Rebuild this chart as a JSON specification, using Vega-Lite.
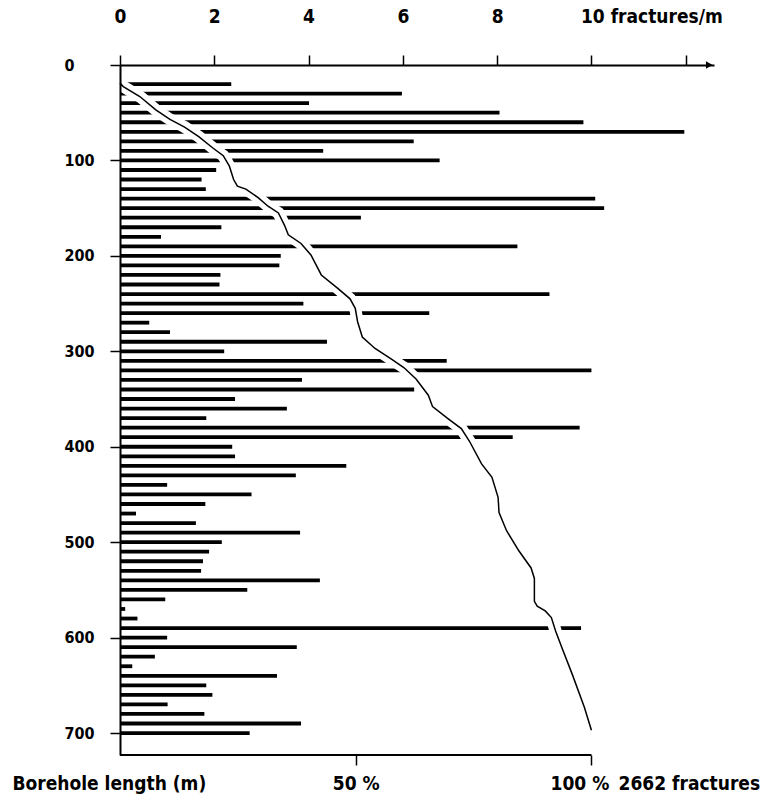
{
  "$schema": "https://vega.github.io/schema/vega-lite/v6.json",
  "width": 594,
  "height": 690,
  "autosize": {"type": "none"},
  "padding": {"left": 120, "top": 65, "right": 65, "bottom": 45},
  "config": {
    "view": {"stroke": null},
    "axis": {
      "domainColor": "black",
      "domainWidth": 2,
      "tickColor": "black",
      "tickWidth": 1.5,
      "tickSize": 10,
      "labelColor": "black",
      "titleColor": "black",
      "labelFont": "DejaVu Sans Condensed, Liberation Sans Narrow, DejaVu Sans",
      "titleFont": "DejaVu Sans Condensed, Liberation Sans Narrow, DejaVu Sans",
      "labelFontWeight": "bold",
      "titleFontWeight": "bold",
      "labelFontSize": 19,
      "titleFontSize": 19,
      "labelFlush": false,
      "labelOverlap": false,
      "grid": false
    }
  },
  "datasets": {
    "bars": [
      {"m": 20, "rate": 2.36}, {"m": 30, "rate": 5.98}, {"m": 40, "rate": 4.01},
      {"m": 50, "rate": 8.05}, {"m": 60, "rate": 9.83}, {"m": 70, "rate": 11.97},
      {"m": 80, "rate": 6.23}, {"m": 90, "rate": 4.31}, {"m": 100, "rate": 6.78},
      {"m": 110, "rate": 2.04}, {"m": 120, "rate": 1.73}, {"m": 130, "rate": 1.82},
      {"m": 140, "rate": 10.08}, {"m": 150, "rate": 10.27}, {"m": 160, "rate": 5.11},
      {"m": 170, "rate": 2.15}, {"m": 180, "rate": 0.87}, {"m": 190, "rate": 8.43},
      {"m": 200, "rate": 3.41}, {"m": 210, "rate": 3.38}, {"m": 220, "rate": 2.13},
      {"m": 230, "rate": 2.11}, {"m": 240, "rate": 9.11}, {"m": 250, "rate": 3.89},
      {"m": 260, "rate": 6.56}, {"m": 270, "rate": 0.62}, {"m": 280, "rate": 1.06},
      {"m": 290, "rate": 4.39}, {"m": 300, "rate": 2.21}, {"m": 310, "rate": 6.93},
      {"m": 320, "rate": 10.0}, {"m": 330, "rate": 3.86}, {"m": 340, "rate": 6.24},
      {"m": 350, "rate": 2.44}, {"m": 360, "rate": 3.54}, {"m": 370, "rate": 1.83},
      {"m": 380, "rate": 9.75}, {"m": 390, "rate": 8.33}, {"m": 400, "rate": 2.38},
      {"m": 410, "rate": 2.44}, {"m": 420, "rate": 4.8}, {"m": 430, "rate": 3.73},
      {"m": 440, "rate": 1.0}, {"m": 450, "rate": 2.79}, {"m": 460, "rate": 1.81},
      {"m": 470, "rate": 0.34}, {"m": 480, "rate": 1.61}, {"m": 490, "rate": 3.82},
      {"m": 500, "rate": 2.16}, {"m": 510, "rate": 1.89}, {"m": 520, "rate": 1.76},
      {"m": 530, "rate": 1.72}, {"m": 540, "rate": 4.24}, {"m": 550, "rate": 2.7},
      {"m": 560, "rate": 0.96}, {"m": 570, "rate": 0.11}, {"m": 580, "rate": 0.37},
      {"m": 590, "rate": 9.78}, {"m": 600, "rate": 1.0}, {"m": 610, "rate": 3.75},
      {"m": 620, "rate": 0.74}, {"m": 630, "rate": 0.26}, {"m": 640, "rate": 3.33},
      {"m": 650, "rate": 1.83}, {"m": 660, "rate": 1.96}, {"m": 670, "rate": 1.01},
      {"m": 680, "rate": 1.79}, {"m": 690, "rate": 3.84}, {"m": 700, "rate": 2.75}
    ],
    "curve": [
      {"m": 19, "pct": 0}, {"m": 22.6, "pct": 0.7}, {"m": 33, "pct": 4.2},
      {"m": 47, "pct": 7.6}, {"m": 57, "pct": 10.6}, {"m": 65, "pct": 13.7},
      {"m": 75, "pct": 16.7}, {"m": 87, "pct": 19.7}, {"m": 95, "pct": 21.9},
      {"m": 106, "pct": 23.2}, {"m": 120, "pct": 24.1}, {"m": 127, "pct": 24.9},
      {"m": 130, "pct": 26.7}, {"m": 139, "pct": 29.3}, {"m": 148, "pct": 31.4},
      {"m": 155, "pct": 33.6}, {"m": 168, "pct": 34.9}, {"m": 178, "pct": 35.7},
      {"m": 187, "pct": 38.4}, {"m": 199, "pct": 40.5}, {"m": 220, "pct": 42.7},
      {"m": 234, "pct": 46.2}, {"m": 245, "pct": 48.8}, {"m": 255, "pct": 49.9},
      {"m": 269, "pct": 50.4}, {"m": 285, "pct": 51.4}, {"m": 297, "pct": 54.1},
      {"m": 308, "pct": 57.5}, {"m": 317, "pct": 60.2}, {"m": 329, "pct": 62.8},
      {"m": 346, "pct": 65.4}, {"m": 358, "pct": 66.3}, {"m": 371, "pct": 69.7},
      {"m": 381, "pct": 72.4}, {"m": 394, "pct": 74.1}, {"m": 418, "pct": 76.7},
      {"m": 432, "pct": 78.9}, {"m": 453, "pct": 80.2}, {"m": 469, "pct": 80.4},
      {"m": 488, "pct": 82.0}, {"m": 509, "pct": 84.6}, {"m": 527, "pct": 87.2},
      {"m": 538, "pct": 87.9}, {"m": 548, "pct": 87.9}, {"m": 562, "pct": 87.9},
      {"m": 567, "pct": 88.5}, {"m": 572, "pct": 90.2}, {"m": 579, "pct": 91.5},
      {"m": 593, "pct": 92.4}, {"m": 610, "pct": 93.7}, {"m": 638, "pct": 95.9},
      {"m": 673, "pct": 98.5}, {"m": 697, "pct": 100}
    ]
  },
  "encoding": {
    "y": {
      "field": "m",
      "type": "quantitative",
      "scale": {"domain": [0, 723], "reverse": true, "nice": false, "zero": true},
      "axis": {
        "orient": "left",
        "values": [0, 100, 200, 300, 400, 500, 600, 700],
        "labelAlign": "left",
        "labelBaseline": "middle",
        "labelFontSize": 16,
        "labelPadding": 46,
        "zindex": 1,
        "title": "Borehole length (m)",
        "titleAngle": 0,
        "titleAlign": "left",
        "titleBaseline": "middle",
        "titleX": -108,
        "titleY": 718
      }
    }
  },
  "layer": [
    {
      "data": {"name": "bars"},
      "layer": [
        {
          "mark": {"type": "rule", "color": "black", "strokeWidth": 3.8},
          "encoding": {
            "x": {
              "field": "rate",
              "type": "quantitative",
              "scale": {"domain": [0, 12.6], "nice": false, "zero": true},
              "axis": {
                "orient": "top",
                "values": [0, 2, 4, 6, 8, 10, 12],
                "labelExpr": "datum.value == 10 ? '10 fractures/m' : (datum.value > 10 ? '' : datum.label)",
                "labelAlign": {"condition": {"test": "datum.value == 10", "value": "left"}, "value": "center"},
                "labelOffset": {"condition": {"test": "datum.value == 10", "value": -11}, "value": 0},
                "labelBaseline": "middle",
                "labelPadding": 39,
                "title": null
              }
            },
            "x2": {"datum": 0}
          }
        },
        {
          "transform": [{"filter": "datum.m == 20"}],
          "mark": {"type": "point", "shape": "triangle-right", "filled": true, "color": "black", "opacity": 1, "size": 60},
          "encoding": {
            "x": {"datum": 12.5},
            "y": {"datum": 0}
          }
        }
      ]
    },
    {
      "data": {"name": "curve"},
      "encoding": {
        "x": {
          "field": "pct",
          "type": "quantitative",
          "scale": {"domain": [0, 126], "nice": false, "zero": true},
          "axis": {
            "orient": "bottom",
            "values": [50, 100],
            "domain": false,
            "labelExpr": "datum.value + ' %'",
            "labelBaseline": "middle",
            "labelPadding": 18,
            "labelOffset": {"condition": {"test": "datum.value == 100", "value": -12}, "value": 0},
            "title": "2662 fractures",
            "titleAngle": 0,
            "titleAlign": "left",
            "titleBaseline": "middle",
            "titleX": 498,
            "titleY": 28
          }
        }
      },
      "layer": [
        {
          "mark": {"type": "line", "color": "white", "strokeWidth": 12},
          "encoding": {"order": {"field": "m"}}
        },
        {
          "mark": {"type": "line", "color": "black", "strokeWidth": 1.5},
          "encoding": {"order": {"field": "m"}}
        },
        {
          "transform": [{"filter": "datum.pct == 100"}],
          "mark": {"type": "rule", "color": "black", "strokeWidth": 2},
          "encoding": {
            "x": {"datum": 0},
            "x2": {"datum": 100},
            "y": {"datum": 723}
          }
        }
      ]
    }
  ],
  "resolve": {"scale": {"x": "independent"}}
}
